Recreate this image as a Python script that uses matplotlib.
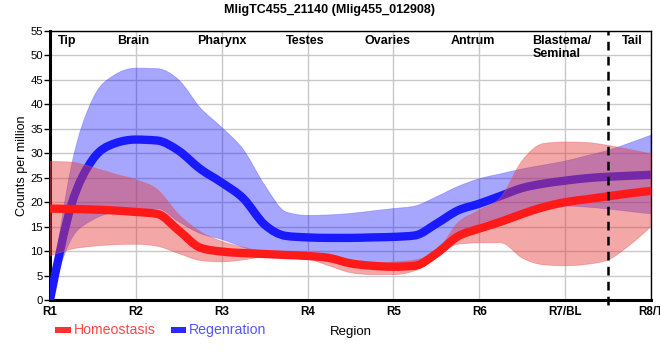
import numpy as np
import matplotlib
matplotlib.use("Agg")
import matplotlib.pyplot as plt
from matplotlib.path import Path
from matplotlib.patches import PathPatch

plt.rcParams['font.family'] = ['Liberation Sans', 'DejaVu Sans']

# ---- data ----
regions = ["R1", "R2", "R3", "R4", "R5", "R6", "R7/BL", "R8/T"]
region_names = ["Tip", "Brain", "Pharynx", "Testes", "Ovaries", "Antrum", "Blastema/\nSeminal", "Tail"]
# sample positions along the body axis (in region units, R1 = 0)
pos = [0.0, 0.25, 0.5, 0.75, 1.0, 1.25, 1.5, 1.75, 2.0, 2.25, 2.5, 2.75, 3.0, 3.25, 3.5,
       3.75, 4.0, 4.25, 4.5, 4.75, 5.0, 5.25, 5.5, 5.75, 6.0, 6.25, 6.5, 6.75, 7.0]

homeo_mean = [18.7, 18.6, 18.5, 18.3, 18.0, 17.6, 14.2, 10.7, 9.9, 9.6, 9.4, 9.2, 9.0, 8.6, 7.5,
              7.0, 6.8, 7.0, 9.5, 13.0, 14.6, 16.0, 17.6, 19.0, 20.0, 20.6, 21.2, 21.8, 22.3]
homeo_upper = [28.3, 28.2, 27.1, 25.8, 24.6, 22.6, 17.5, 14.0, 12.0, 10.8, 10.0, 9.8, 9.6, 9.0, 7.6,
               7.5, 7.8, 8.2, 9.9, 15.8, 18.4, 21.0, 28.5, 32.0, 32.3, 32.2, 31.6, 30.8, 29.9]
homeo_lower = [9.0, 10.4, 11.0, 11.3, 11.4, 11.0, 9.5, 8.1, 7.8, 8.2, 8.8, 8.8, 8.4, 7.0, 5.6,
               5.2, 5.2, 6.0, 8.8, 11.4, 11.7, 11.7, 8.6, 7.2, 7.0, 7.3, 8.2, 11.2, 15.0]

regen_mean = [0.0, 19.5, 28.8, 32.0, 32.8, 32.6, 30.5, 26.8, 24.0, 20.8, 15.4, 13.1, 12.8, 12.7, 12.7,
              12.8, 12.9, 13.2, 15.6, 18.3, 19.7, 21.3, 22.9, 23.8, 24.4, 24.9, 25.2, 25.4, 25.6]
regen_upper = [0.0, 27.5, 41.2, 46.0, 47.4, 47.3, 45.0, 39.3, 35.3, 30.8, 23.5, 18.0, 17.3, 17.4, 17.7,
               18.2, 18.7, 19.2, 21.1, 23.2, 24.8, 25.8, 26.8, 27.6, 28.4, 29.5, 30.6, 32.1, 33.7]
regen_lower = [0.0, 12.5, 16.4, 18.0, 18.7, 18.7, 16.0, 13.6, 12.4, 10.8, 9.3, 8.8, 8.3, 7.9, 7.5,
               7.2, 7.1, 7.6, 9.9, 13.0, 15.6, 16.8, 17.8, 18.6, 19.2, 19.0, 18.6, 18.1, 17.6]

series_names = ["Homeostasis", "Regenration"]
title = "MligTC455_21140 (Mlig455_012908)"


# ---- monotone cubic (d3 monotoneX style) bezier segments ----
def _slopes(x, y):
    x = np.asarray(x, float); y = np.asarray(y, float)
    n = len(x)
    h = np.diff(x); s = np.diff(y) / h
    m = np.zeros(n)
    for i in range(1, n - 1):
        h0, h1, s0, s1 = h[i-1], h[i], s[i-1], s[i]
        p = (s0 * h1 + s1 * h0) / (h0 + h1)
        m[i] = (np.sign(s0) + np.sign(s1)) * min(abs(s0), abs(s1), 0.5 * abs(p))
    m[0] = (3 * s[0] - m[1]) / 2
    m[-1] = (3 * s[-1] - m[-2]) / 2
    return m


def bezier_vertices(x, y):
    x = np.asarray(x, float); y = np.asarray(y, float)
    m = _slopes(x, y)
    verts = [(x[0], y[0])]
    for i in range(len(x) - 1):
        h = x[i+1] - x[i]
        verts += [(x[i] + h/3, y[i] + m[i]*h/3),
                  (x[i+1] - h/3, y[i+1] - m[i+1]*h/3),
                  (x[i+1], y[i+1])]
    return verts


def curve_path(x, y):
    v = bezier_vertices(x, y)
    codes = [Path.MOVETO] + [Path.CURVE4] * (len(v) - 1)
    return Path(v, codes)


def band_path(x, lo, hi):
    vu = bezier_vertices(x, hi)
    vl = bezier_vertices(x, lo)[::-1]
    verts = vu + vl + [vu[0]]
    codes = ([Path.MOVETO] + [Path.CURVE4] * (len(vu) - 1) +
             [Path.LINETO] + [Path.CURVE4] * (len(vl) - 1) + [Path.CLOSEPOLY])
    return Path(verts, codes)


fig = plt.figure(figsize=(6.6, 3.6), dpi=100)
ax = fig.add_axes([50/660, 60/360, 601/660, 269/360])

ax.set_xlim(0, len(regions) - 1)
ax.set_ylim(0, 55)
ax.set_yticks(np.arange(0, 56, 5))
ax.set_xticks(np.arange(len(regions)))
ax.set_xticklabels(regions, fontweight='bold', fontsize=8.4)
ax.tick_params(axis='y', labelsize=8.2, length=4, width=1, pad=1)
ax.tick_params(axis='x', length=0, pad=4)
ax.grid(True, color='#c8c8c8', linewidth=1)
ax.set_axisbelow(True)
for sp in ['left', 'bottom']:
    ax.spines[sp].set_linewidth(2.2)
for sp in ['top', 'right']:
    ax.spines[sp].set_linewidth(1.0)

blue_band = '#0000ff'
red_band = '#e63c3c'

ax.add_patch(PathPatch(band_path(pos, regen_lower, regen_upper), facecolor=blue_band,
                       alpha=0.35, edgecolor='#4848ff', linewidth=0.6, zorder=2))
ax.add_patch(PathPatch(curve_path(pos, regen_mean), facecolor='none', edgecolor='#1a1aff',
                       linewidth=6, zorder=3, capstyle='butt'))
ax.add_patch(PathPatch(band_path(pos, homeo_lower, homeo_upper), facecolor=red_band,
                       alpha=0.45, edgecolor='#e06060', linewidth=0.6, zorder=4))
ax.add_patch(PathPatch(curve_path(pos, homeo_mean), facecolor='none', edgecolor='#ff1a1a',
                       linewidth=6, zorder=5, capstyle='butt'))

# dashed boundary between blastema and tail
ax.axvline(6.5, color='black', linewidth=1.8, linestyle=(0, (3.5, 2.5)), zorder=6,
           ymin=-0.02, clip_on=False)

# region names at top
name_x = [0.2, 0.97, 2.0, 2.97, 3.93, 4.93, 5.62, 6.78]
for nm, xv in zip(region_names, name_x):
    ha = 'left' if '\n' in nm else 'center'
    ax.text(xv, 54.2, nm, ha=ha, va='top', fontweight='bold', fontsize=9,
            linespacing=1.1, zorder=7)

ax.set_ylabel("Counts per million", fontsize=9, labelpad=2)
fig.text(351/660, 1 - 332/360, "Region", ha='center', va='center', fontsize=9.5)
fig.text(330/660, 1 - 10/360, title, ha='center', va='center', fontsize=9, fontweight='bold')

# legend
fig.patches.append(plt.Rectangle((55/660, 1 - 333/360), 16/660, 6/360, transform=fig.transFigure,
                                 facecolor='#ff3030', edgecolor='none'))
fig.text(74/660, 1 - 330/360, series_names[0], ha='left', va='center', fontsize=10.2,
         color='#ff4a4a')
fig.patches.append(plt.Rectangle((171/660, 1 - 333/360), 15/660, 6/360, transform=fig.transFigure,
                                 facecolor='#2a2aff', edgecolor='none'))
fig.text(189/660, 1 - 330/360, series_names[1], ha='left', va='center', fontsize=10.2,
         color='#5555ff')

fig.savefig("out.png", dpi=100)
